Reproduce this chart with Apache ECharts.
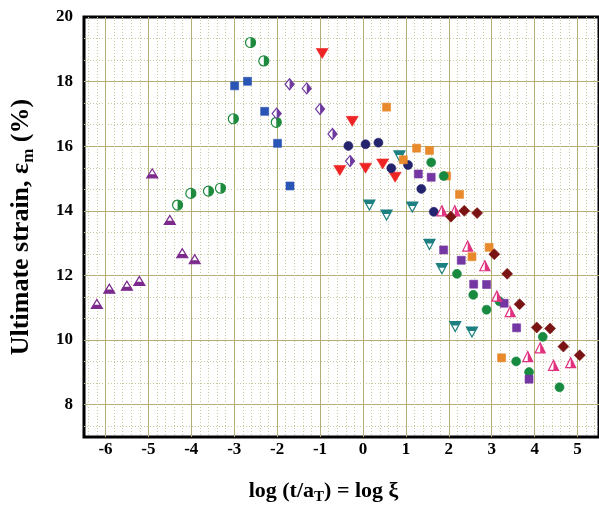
<!DOCTYPE html>
<html><head><meta charset="utf-8">
<script src="https://cdn.jsdelivr.net/npm/echarts@6/dist/echarts.min.js"></script>
<style>html,body{margin:0;padding:0;background:#fff}#c{width:599px;height:511px}</style>
</head><body><div id="c"></div>
<script>
// ---- axes ----
const xRange = [-6.5, 5.5];
const yRange = [7, 20];
const xTickValues = [-6, -5, -4, -3, -2, -1, 0, 1, 2, 3, 4, 5];
const xTickLabels = ['-6', '-5', '-4', '-3', '-2', '-1', '0', '1', '2', '3', '4', '5'];
const yTickValues = [8, 10, 12, 14, 16, 18, 20];
const yTickLabels = ['8', '10', '12', '14', '16', '18', '20'];

// ---- data: [log xi, ultimate strain %] ----
const purpleHalfTriangles = [[-6.20,11.12],[-5.91,11.59],[-5.50,11.68],[-5.21,11.83],[-4.91,15.16],[-4.50,13.72],[-4.21,12.69],[-3.92,12.50]];
const greenHalfCircles = [[-4.32,14.18],[-4.01,14.54],[-3.60,14.61],[-3.32,14.70],[-3.02,16.85],[-2.62,19.21],[-2.31,18.64],[-2.02,16.74]];
const blueSquares = [[-2.99,17.87],[-2.69,18.01],[-2.29,17.08],[-1.99,16.09],[-1.70,14.77]];
const purpleHalfDiamonds = [[-2.01,17.01],[-1.71,17.92],[-1.31,17.79],[-1.00,17.15],[-0.71,16.38],[-0.30,15.54]];
const redDownTriangles = [[-0.95,18.87],[-0.25,16.77],[-0.54,15.25],[0.06,15.32],[0.46,15.45],[0.75,15.04]];
const navyCircles = [[-0.34,16.01],[0.06,16.06],[0.36,16.11],[0.66,15.32],[1.05,15.42],[1.36,14.68],[1.65,13.97]];
const tealHalfDownTriangles = [[0.15,14.18],[0.55,13.87],[0.85,15.70],[1.15,14.12],[1.55,12.96],[1.84,12.21],[2.15,10.42],[2.54,10.25]];
const orangeSquares = [[0.55,17.21],[0.94,15.58],[1.25,15.94],[1.55,15.87],[1.95,15.08],[2.25,14.51],[2.54,12.58],[2.94,12.87],[3.23,9.45]];
const greenCircles = [[1.59,15.50],[1.88,15.08],[2.19,12.05],[2.57,11.40],[2.88,10.94],[3.18,11.20],[3.57,9.34],[3.87,9.01],[4.19,10.10],[4.58,8.54]];
const purpleSquares = [[1.29,15.14],[1.59,15.04],[1.88,12.79],[2.29,12.47],[2.58,11.73],[2.88,11.72],[3.29,11.14],[3.58,10.38],[3.87,8.79]];
const pinkHalfTriangles = [[1.84,14.00],[2.14,14.00],[2.44,12.91],[2.84,12.30],[3.12,11.36],[3.43,10.88],[3.84,9.49],[4.13,9.76],[4.44,9.22],[4.84,9.30]];
const darkRedDiamonds = [[2.05,13.82],[2.36,14.00],[2.66,13.93],[3.06,12.66],[3.36,12.05],[3.65,11.11],[4.05,10.39],[4.36,10.36],[4.67,9.80],[5.05,9.53]];

// ---- styling ----
const FONT = '"Liberation Serif", "Times New Roman", serif';
const MAJOR = '#b3ae78';
const MINOR = '#cbc79c';
const T = 'rgba(0,0,0,0)';

const P_DOWN_TRI = 'path://M-10,-10 L10,-10 L0,10 Z';
const P_TRI_BOTTOM_BAND = 'path://M0,-10 M-6,2 L6,2 L10,10 L-10,10 Z';
const P_DOWN_TRI_TOP_BAND = 'path://M0,10 M-10,-10 L10,-10 L6,-2 L-6,-2 Z';
const P_TRI_RIGHT = 'path://M-10,10 M0,-10 L10,10 L0,10 Z';
const P_CIRCLE_RIGHT = 'path://M-10,0 M0,-10 A10,10 0 0 1 0,10 Z';
const P_DIAMOND_RIGHT = 'path://M-10,0 M0,-10 L10,0 L0,10 Z';

function solid(data, symbol, size, color) {
  return { type: 'scatter', data, symbol, symbolSize: size, xAxisIndex: 0, yAxisIndex: 0,
    itemStyle: { color, opacity: 1, borderColor: color, borderWidth: 0.6 }, emphasis: { disabled: true }, z: 5 };
}
function half(data, outline, fillPath, size, color) {
  return [
    { type: 'scatter', data, symbol: outline, symbolSize: size, xAxisIndex: 0, yAxisIndex: 0,
      itemStyle: { color: '#fff', opacity: 1, borderColor: color, borderWidth: 1.2 }, emphasis: { disabled: true }, z: 5 },
    { type: 'scatter', data, symbol: fillPath, symbolSize: size, xAxisIndex: 0, yAxisIndex: 0,
      itemStyle: { color, opacity: 1, borderWidth: 0 }, emphasis: { disabled: true }, z: 6 }
  ];
}

function lineAxis(position, min, max, colors, type, extra) {
  return Object.assign({
    type: 'value', position, min, max, interval: 1,
    axisLine: { show: false }, axisTick: { show: false }, axisLabel: { show: false },
    splitLine: { show: true, showMinLine: true, showMaxLine: false, lineStyle: { color: colors, type, width: 1 } }
  }, extra || {});
}

const xMinorColors = [T, MINOR, T, MINOR, T, T, T, MINOR, T, MINOR];
const yMinorColors = [T, MINOR, T, T, T, MINOR];

const chart = echarts.init(document.getElementById('c'), null, { renderer: 'canvas' });
chart.setOption({
  animation: false,
  backgroundColor: '#fff',
  grid: { left: 84, top: 17, right: 0, bottom: 74, show: true, borderColor: '#000', borderWidth: 3,
    backgroundColor: '#fff', containLabel: false, outerBoundsMode: 'none' },
  xAxis: [
    { type: 'value', position: 'bottom', min: xRange[0], max: xRange[1], show: false },
    lineAxis('bottom', 0, (xRange[1] - xRange[0]) * 10, xMinorColors, [1, 2]),
    lineAxis('bottom', 0, (xRange[1] - xRange[0]) * 2, [T, MAJOR], 'solid', {
      axisLabel: {
        show: true, interval: 0, margin: 4, color: '#000', fontFamily: FONT, fontWeight: 'bold', fontSize: 17,
        formatter: function (u) {
          const x = u / 2 + xRange[0];
          const i = xTickValues.findIndex(v => Math.abs(v - x) < 1e-6);
          return i >= 0 ? xTickLabels[i] : '';
        }
      },
      name: '{a|log (t/a}{s|T}{a|) = log ξ}', nameLocation: 'middle', nameGap: 41,
      nameTextStyle: {
        padding: [0, 36, 0, 0],
        rich: {
          a: { fontFamily: FONT, fontWeight: 'bold', fontSize: 22, color: '#000', lineHeight: 26 },
          s: { fontFamily: FONT, fontWeight: 'bold', fontSize: 15, color: '#000', padding: [12, 0, 0, 0] }
        }
      }
    })
  ],
  yAxis: [
    { type: 'value', position: 'left', min: yRange[0], max: yRange[1], show: false },
    lineAxis('left', 0, (yRange[1] - yRange[0]) * 3, yMinorColors, [1, 2]),
    lineAxis('left', yRange[0], yRange[1], [T, MAJOR], 'solid', {
      axisLabel: {
        show: true, interval: 0, margin: 11, color: '#000', fontFamily: FONT, fontWeight: 'bold', fontSize: 17,
        formatter: function (v) {
          const i = yTickValues.findIndex(t => Math.abs(t - v) < 1e-6);
          return i >= 0 ? yTickLabels[i] : '';
        }
      },
      name: '{a|Ultimate strain, ε}{s|m}{a| (%)}', nameLocation: 'middle', nameGap: 47,
      nameTextStyle: {
        rich: {
          a: { fontFamily: FONT, fontWeight: 'bold', fontSize: 26, color: '#000', lineHeight: 30 },
          s: { fontFamily: FONT, fontWeight: 'bold', fontSize: 17, color: '#000', padding: [14, 0, 0, 0] }
        }
      }
    })
  ],
  series: [].concat(
    half(purpleHalfTriangles, 'triangle', P_TRI_BOTTOM_BAND, [11, 9], '#7b2a8c'),
    half(greenHalfCircles, 'circle', P_CIRCLE_RIGHT, 10, '#1e8a3e'),
    [solid(blueSquares, 'rect', 8, '#2a55b5')],
    half(purpleHalfDiamonds, 'diamond', P_DIAMOND_RIGHT, [9, 11], '#6e3a9e'),
    [solid(redDownTriangles, P_DOWN_TRI, [12, 10], '#ee2424')],
    [solid(navyCircles, 'circle', 9, '#23236e')],
    half(tealHalfDownTriangles, P_DOWN_TRI, P_DOWN_TRI_TOP_BAND, [11, 10], '#1c7f80'),
    [solid(orangeSquares, 'rect', 8, '#e8892c')],
    [solid(greenCircles, 'circle', 9, '#178a40')],
    [solid(purpleSquares, 'rect', 8, '#7436a2')],
    half(pinkHalfTriangles, 'triangle', P_TRI_RIGHT, [10, 10], '#e0307e'),
    [solid(darkRedDiamonds, 'diamond', [11, 11], '#7a1414')]
  )
});
</script>
</body></html>
